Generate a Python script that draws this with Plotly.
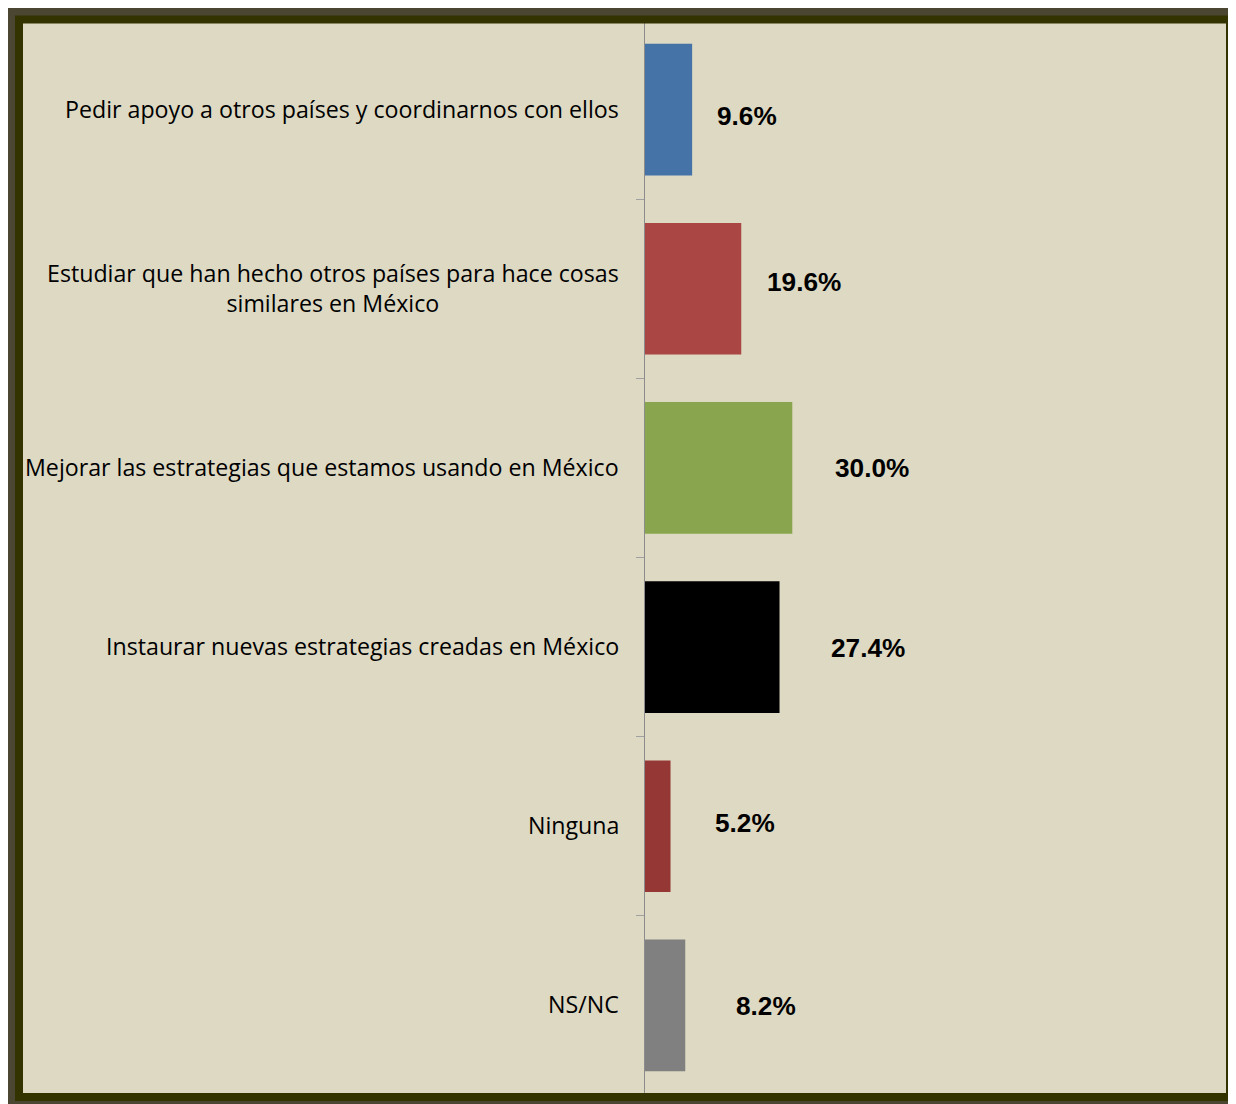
import plotly.graph_objects as go

categories = [
    "Pedir apoyo a otros países y coordinarnos con ellos",
    "Estudiar que han hecho otros países para hace cosas<br>similares en México",
    "Mejorar las estrategias que estamos usando en México",
    "Instaurar nuevas estrategias creadas en México",
    "Ninguna",
    "NS/NC",
]
values = [0.096, 0.196, 0.300, 0.274, 0.052, 0.082]
value_labels = ["9.6%", "19.6%", "30.0%", "27.4%", "5.2%", "8.2%"]
bar_colors = ["#4572A7", "#AA4643", "#89A54E", "#000000", "#953735", "#808080"]
label_xshift = [55, 63, 80, 88, 74, 81]
label_yshift = [-6, 7, 0, -1, 3, -1]

W, H = 1220, 1096
L, R, T, B = 637, 2, 12, 9
PW, PH = W - L - R, H - T - B


def px(x):
    return (x - L) / PW


def py(y):
    return 1 - (y - T) / PH


n = len(categories)
fig = go.Figure()
fig.add_trace(go.Bar(
    x=values, y=list(range(n)), orientation="h",
    marker=dict(color=bar_colors, line=dict(width=0)),
    hoverinfo="skip",
))

annotations = []
for i, (cat, v, lab) in enumerate(zip(categories, values, value_labels)):
    annotations.append(dict(
        x=0, y=i, xref="x", yref="y", text=cat, showarrow=False,
        xanchor="right", yanchor="middle", align="center", xshift=-24, yshift=1,
        font=dict(family="Open Sans", size=23.2, color="#000000"),
    ))
    annotations.append(dict(
        x=v, y=i, xref="x", yref="y", text="<b>%s</b>" % lab, showarrow=False,
        xanchor="center", yanchor="middle", xshift=label_xshift[i], yshift=label_yshift[i],
        font=dict(family="Liberation Sans, Arial", size=26.2, color="#000000"),
    ))

shapes = [
    dict(type="rect", xref="paper", yref="paper", layer="below",
         x0=px(15), x1=px(1218), y0=py(15), y1=py(1085),
         fillcolor="#DDD9C3", line=dict(width=0)),
    dict(type="rect", xref="paper", yref="paper", layer="above",
         x0=px(11), x1=px(1222), y0=py(11.5), y1=py(1089),
         fillcolor="rgba(0,0,0,0)", line=dict(color="#333300", width=8)),
]

fig.update_layout(
    width=W, height=H,
    margin=dict(l=L, r=R, t=T, b=B, pad=0),
    paper_bgcolor="#4A4631",
    plot_bgcolor="rgba(0,0,0,0)",
    showlegend=False,
    bargap=0.265,
    xaxis=dict(range=[0, PW / 491.0], visible=False, fixedrange=True),
    yaxis=dict(
        range=[n - 0.5, -0.5],
        tickmode="array", tickvals=[i + 0.5 for i in range(-1, n)],
        showticklabels=False,
        ticks="outside", ticklen=8, tickcolor="#A0A0A0", tickwidth=1,
        showline=True, linecolor="#8C8C8C", linewidth=1,
        showgrid=False, zeroline=False, fixedrange=True,
    ),
    annotations=annotations,
    shapes=shapes,
)

fig.write_html("out.html")
